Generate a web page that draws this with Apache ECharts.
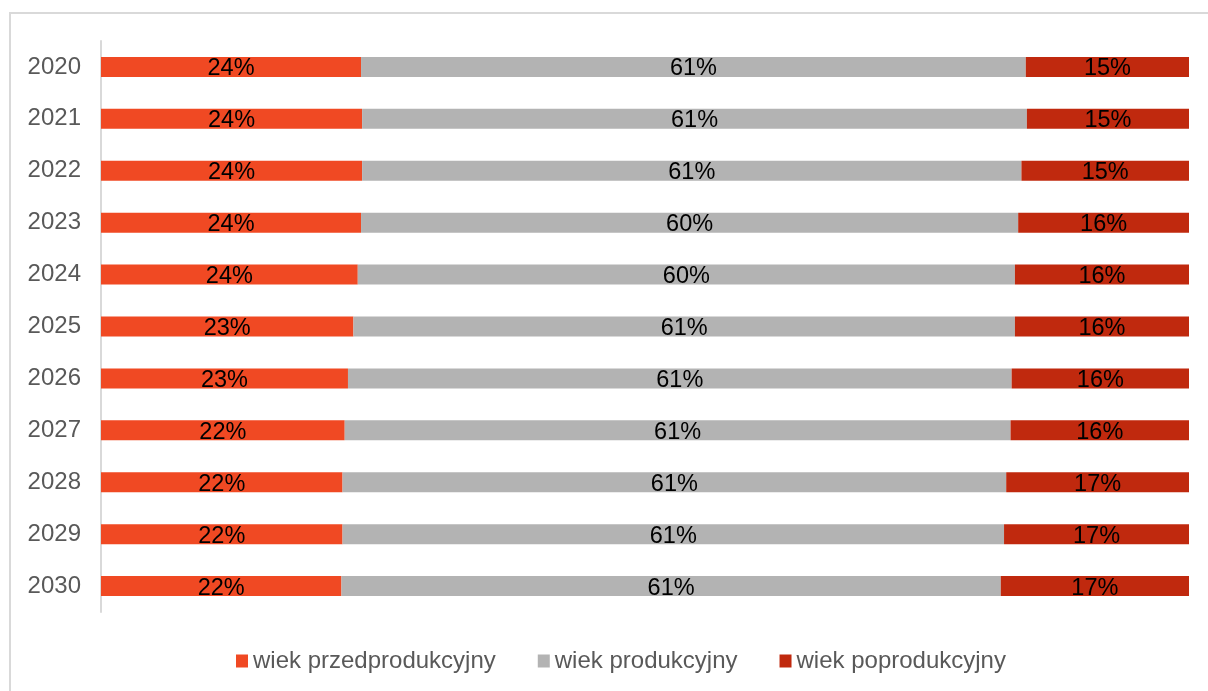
<!DOCTYPE html>
<html>
<head>
<meta charset="utf-8">
<script src="https://cdn.jsdelivr.net/npm/echarts@6/dist/echarts.min.js"></script>
<style>
  html, body { margin: 0; padding: 0; background: #fff; }
  #frame { position: absolute; left: 9px; top: 12px; width: 1220px; height: 700px; border: 2px solid #d9d9d9; box-sizing: border-box; }
  #main { position: absolute; left: 0; top: 0; width: 1208px; height: 691px; }
</style>
</head>
<body>
<div id="frame"></div>
<div id="main"></div>
<script>
(function() {
    var chartDom = document.getElementById('main');
    var myChart = echarts.init(chartDom);
    var option;

    const years = ['2020', '2021', '2022', '2023', '2024', '2025', '2026', '2027', '2028', '2029', '2030'];
    const przed = [23.9, 24.0, 24.0, 23.9, 23.6, 23.2, 22.7, 22.4, 22.2, 22.2, 22.1];
    const prod = [61.1, 61.1, 60.6, 60.4, 60.4, 60.8, 61.0, 61.2, 61.0, 60.8, 60.6];
    const popr = [15.0, 14.9, 15.4, 15.7, 16.0, 16.0, 16.3, 16.4, 16.8, 17.0, 17.3];
    const names = ['wiek przedprodukcyjny', 'wiek produkcyjny', 'wiek poprodukcyjny'];

    const label = {
        show: true,
        position: 'inside',
        offset: [0, 2],
        color: '#000',
        fontSize: 23.5,
        fontFamily: 'Liberation Sans',
        formatter: function(p) {
            return Math.round(p.value) + '%';
        }
    };

    function bar(name, data, color) {
        return {
            name: name,
            type: 'bar',
            stack: 'all',
            barWidth: 20,
            data: data,
            label: label,
            itemStyle: { color: color },
            emphasis: { disabled: true }
        };
    }

    option = {
        animation: false,
        color: ['#f04923', '#b3b3b3', '#c0290e'],
        grid: {
            left: 101,
            right: 19,
            top: 41,
            height: 571
        },
        legend: {
            bottom: 13,
            left: 231,
            itemWidth: 12,
            itemHeight: 13,
            itemGap: 42,
            icon: 'rect',
            data: names,
            textStyle: {
                fontSize: 24,
                color: '#595959',
                fontFamily: 'Liberation Sans'
            }
        },
        xAxis: {
            type: 'value',
            min: 0,
            max: 100,
            show: false
        },
        yAxis: {
            type: 'category',
            inverse: true,
            data: years,
            axisLine: { lineStyle: { color: '#d9d9d9', width: 2 } },
            axisTick: { show: false },
            axisLabel: {
                fontSize: 24,
                color: '#595959',
                fontFamily: 'Liberation Sans',
                margin: 20,
                padding: [4, 0, 0, 0]
            }
        },
        series: [
            bar(names[0], przed, '#f04923'),
            bar(names[1], prod, '#b3b3b3'),
            bar(names[2], popr, '#c0290e')
        ]
    };

    myChart.setOption(option);
})();
</script>
</body>
</html>
